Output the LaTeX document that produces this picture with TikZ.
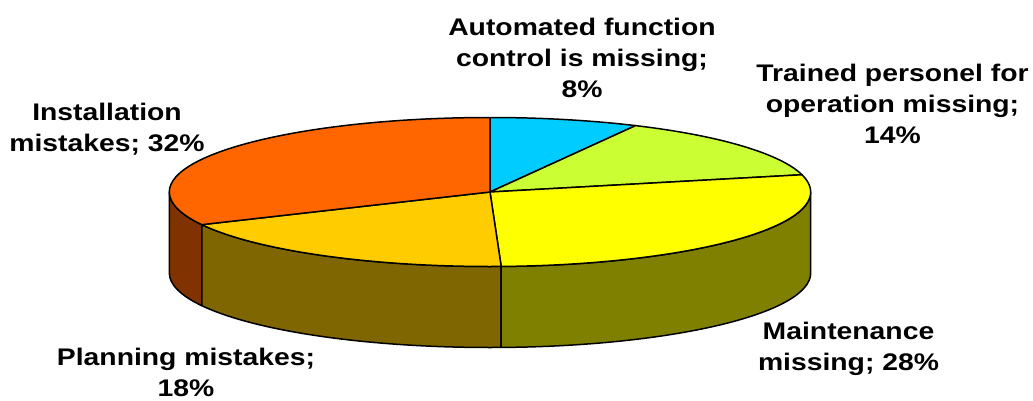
\documentclass[tikz,border=0pt]{standalone}
\usepackage{fontspec}
\setmainfont[FakeStretch=1.18]{Liberation Sans}

\definecolor{cyantop}{HTML}{00CCFF}
\definecolor{limetop}{HTML}{CCFF33}
\definecolor{yellowtop}{HTML}{FFFF00}
\definecolor{yellowside}{HTML}{808000}
\definecolor{goldtop}{HTML}{FFCC00}
\definecolor{goldside}{HTML}{806600}
\definecolor{orangetop}{HTML}{FF6600}
\definecolor{orangeside}{HTML}{803300}

\newcommand{\pierx}{320.7}
\newcommand{\piery}{74.5}
\newcommand{\piedepth}{81}
% top face of a slice: start angle, end angle, colour
\newcommand{\pietop}[3]{\filldraw[slice, fill=#3] (0,0) -- ({\pierx*cos(#1)},{\piery*sin(#1)}) arc[start angle=#1, end angle=#2, x radius=\pierx, y radius=\piery] -- cycle;}
% front wall of a slice
\newcommand{\pieside}[3]{\filldraw[slice, fill=#3] ({\pierx*cos(#1)},{\piery*sin(#1)}) arc[start angle=#1, end angle=#2, x radius=\pierx, y radius=\piery] -- ++(0,-\piedepth) arc[start angle=#2, end angle=#1, x radius=\pierx, y radius=\piery] -- cycle;}

\begin{document}
\begin{tikzpicture}[x=1pt, y=1pt, slice/.style={draw=black, line width=1.5pt, line join=round}, txt/.style={font=\fontsize{24}{30.8}\selectfont\bfseries, align=center, anchor=base, inner sep=0pt}]
\useasboundingbox (0,0) rectangle (1033,400);
\begin{scope}[shift={(490,208)}]
\pieside{180}{206}{orangeside}
\pieside{206}{272}{goldside}
\pieside{272}{360}{yellowside}
\pietop{63}{90}{cyantop}
\pietop{13.4}{63}{limetop}
\pietop{-88}{13.4}{yellowtop}
\pietop{206}{272}{goldtop}
\pietop{90}{206}{orangetop}
\end{scope}
% base anchor sits on the last line
\node[txt] (automated) at (582,302.7) {Automated function\\control is missing;\\8\%};
\node[txt] (trained) at (892.5,256.7) {Trained personel for\\operation missing;\\14\%};
\node[txt] (installation) at (107,248.3) {Installation\\mistakes; 32\%};
\node[txt] (planning) at (186,3.3) {Planning mistakes;\\18\%};
\node[txt] (maintenance) at (848.5,30) {Maintenance\\missing; 28\%};
\end{tikzpicture}
\end{document}
